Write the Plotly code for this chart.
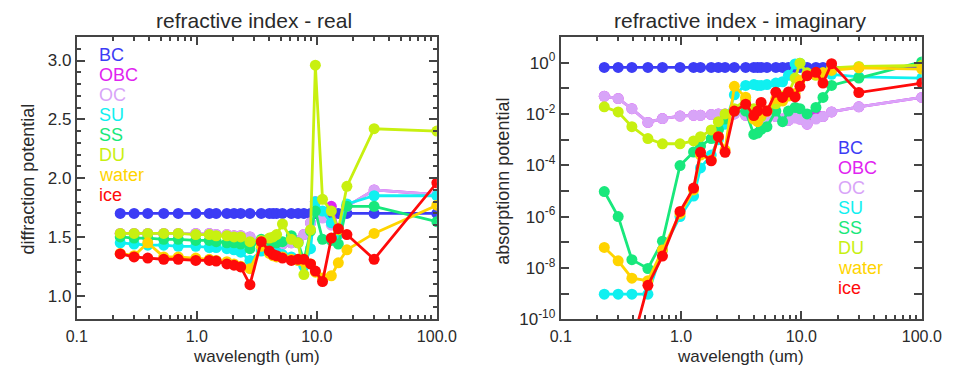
import plotly.graph_objects as go

# wavelength grid (um)
wavelength = [0.23, 0.30, 0.39, 0.53, 0.70, 0.98, 1.27, 1.45, 1.78, 2.04, 2.32, 2.77,
              3.44, 4.02, 4.32, 4.62, 5.17, 6.13, 6.97, 7.80, 8.86, 9.72, 11.15, 13.2,
              15.1, 17.8, 30.0, 100.0]

species = ["BC", "OBC", "OC", "SU", "SS", "DU", "water", "ice"]
colors = ["#3c3cf5", "#e024f0", "#d8a4f8", "#10f0f0", "#18e87c", "#c8f010", "#ffd400", "#ff0a0a"]

# real part (diffraction potential)
re_BC = [1.70] * 28
re_OC = [1.53, 1.53, 1.53, 1.53, 1.53, 1.53, 1.53, 1.52, 1.52, 1.51, 1.51, 1.50,
         1.45, 1.45, 1.44, 1.44, 1.44, 1.45, 1.47, 1.52, 1.62, 1.80, 1.66, 1.60,
         1.56, 1.76, 1.90, 1.86]
re_OBC = [1.53, 1.53, 1.53, 1.53, 1.53, 1.53, 1.53, 1.52, 1.52, 1.51, 1.51, 1.50,
          1.45, 1.45, 1.44, 1.44, 1.44, 1.45, 1.47, 1.52, 1.62, 1.80, 1.68, 1.76,
          1.56, 1.76, 1.90, 1.86]
re_SU = [1.45, 1.44, 1.43, 1.43, 1.42, 1.42, 1.41, 1.41, 1.40, 1.39, 1.37, 1.30,
         1.38, 1.39, 1.38, 1.37, 1.35, 1.33, 1.30, 1.25, 1.40, 1.80, 1.72, 1.62,
         1.52, 1.78, 1.85, 1.85]
re_SS = [1.50, 1.49, 1.49, 1.48, 1.48, 1.47, 1.47, 1.46, 1.45, 1.45, 1.44, 1.40,
         1.48, 1.46, 1.46, 1.45, 1.46, 1.51, 1.45, 1.30, 1.55, 1.72, 1.48, 1.47,
         1.44, 1.76, 1.76, 1.63]
re_DU = [1.53, 1.53, 1.53, 1.53, 1.53, 1.52, 1.52, 1.51, 1.51, 1.50, 1.50, 1.46,
         1.47, 1.49, 1.50, 1.52, 1.61, 1.48, 1.45, 1.18, 1.56, 2.96, 1.82, 1.72,
         1.56, 1.93, 2.42, 2.40]
re_water = [1.36, 1.34, 1.45, 1.33, 1.33, 1.32, 1.31, 1.30, 1.29, 1.27, 1.25, 1.23,
            1.42, 1.36, 1.34, 1.33, 1.33, 1.31, 1.30, 1.29, 1.27, 1.20, 1.15, 1.17,
            1.28, 1.39, 1.53, 1.77]
re_ice = [1.355, 1.33, 1.32, 1.31, 1.31, 1.30, 1.30, 1.295, 1.27, 1.26, 1.245, 1.094,
          1.46, 1.38, 1.35, 1.34, 1.32, 1.30, 1.31, 1.31, 1.27, 1.21, 1.12, 1.49,
          1.57, 1.52, 1.31, 1.96]

# imaginary part (absorption potential)
im_BC = [0.65] * 28
im_OC = [4.9e-2, 4.0e-2, 1.6e-2, 4.7e-3, 6.6e-3, 8.3e-3, 8.9e-3, 8.9e-3, 9.5e-3, 1.0e-2,
         1.0e-2, 1.0e-2, 8.9e-3, 7.9e-3, 7.1e-3, 6.3e-3, 6.3e-3, 7.9e-3, 6.3e-3, 5.6e-3,
         7.1e-3, 6.3e-3, 4.0e-3, 6.3e-3, 7.9e-3, 1.2e-2, 1.9e-2, 4.4e-2]
im_OBC = [4.9e-2, 4.0e-2, 1.6e-2, 4.7e-3, 6.6e-3, 8.3e-3, 8.9e-3, 8.9e-3, 9.5e-3, 1.0e-2,
          1.0e-2, 1.0e-2, 8.9e-3, 7.9e-3, 7.1e-3, 6.3e-3, 6.3e-3, 7.9e-3, 6.3e-3, 5.6e-3,
          7.1e-3, 6.3e-3, 4.0e-3, 1.0e-2, 7.9e-3, 1.2e-2, 1.9e-2, 4.4e-2]
im_SU = [9.5e-10, 9.5e-10, 9.5e-10, 9.5e-10, 5.0e-8, 1.0e-6, 6.3e-6, 7.9e-5, 2.5e-4, 1.0e-3,
         4.0e-3, 5.6e-2, 1.3e-1, 1.4e-1, 1.3e-1, 1.3e-1, 1.4e-1, 1.6e-1, 1.8e-1, 3.2e-1,
         8.9e-1, 9.5e-1, 3.5e-1, 3.5e-1, 3.8e-1, 3.5e-1, 2.8e-1, 2.5e-1]
im_SS = [9.5e-6, 1.0e-6, 2.1e-8, 9.5e-9, 1.1e-7, 9.8e-5, 3.3e-4, 5.6e-4, 1.1e-3, 2.5e-3,
         6.3e-3, 1.3e-2, 1.3e-2, 1.6e-3, 1.8e-3, 2.5e-3, 3.2e-3, 1.3e-2, 5.0e-3, 1.3e-2,
         1.8e-2, 1.6e-2, 1.0e-2, 1.8e-2, 4.4e-2, 1.3e-1, 2.5e-1, 1.07]
im_DU = [1.9e-2, 1.2e-2, 3.2e-3, 1.1e-3, 6.9e-4, 6.9e-4, 8.9e-4, 1.3e-3, 2.4e-3, 5.0e-3,
         1.0e-2, 1.6e-2, 3.5e-2, 1.6e-2, 1.0e-2, 7.9e-3, 1.3e-2, 2.5e-2, 5.0e-2, 6.3e-2,
         2.5e-1, 9.5e-1, 4.0e-1, 3.2e-1, 4.0e-1, 6.3e-1, 7.1e-1, 7.9e-1]
im_water = [6.3e-8, 1.9e-8, 4.0e-9, 3.2e-9, 5.0e-8, 1.3e-6, 1.1e-5, 2.5e-4, 1.6e-4, 1.3e-3,
            4.0e-4, 1.2e-1, 4.5e-2, 6.3e-3, 5.0e-3, 1.0e-2, 1.3e-2, 4.0e-2, 3.2e-2, 5.0e-2,
            6.3e-2, 2.0e-1, 3.2e-1, 3.5e-1, 4.0e-1, 5.0e-1, 6.3e-1, 5.6e-1]
im_ice = [7.9e-16, 1.0e-13, 1.0e-11, 2.1e-9, 2.9e-8, 1.6e-6, 1.3e-5, 3.2e-4, 1.5e-4, 1.3e-3,
          3.2e-4, 1.3e-2, 2.4e-2, 8.7e-3, 1.3e-2, 2.8e-2, 1.3e-2, 7.1e-2, 4.4e-2, 7.2e-2,
          4.6e-2, 1.2e-1, 3.1e-1, 4.2e-1, 1.6e-1, 9.1e-1, 6.8e-2, 1.6e-1]

real_vals = [re_BC, re_OBC, re_OC, re_SU, re_SS, re_DU, re_water, re_ice]
imag_vals = [im_BC, im_OBC, im_OC, im_SU, im_SS, im_DU, im_water, im_ice]

FONT = "Liberation Sans, Arial, Helvetica, sans-serif"
AXC = "#444444"
TXT = "#2a2a2a"

fig = go.Figure()
for name, col, rv, iv in zip(species, colors, real_vals, imag_vals):
    fig.add_trace(go.Scatter(x=wavelength, y=rv, mode="lines+markers", name=name,
                             line=dict(color=col, width=2.8), marker=dict(color=col, size=11),
                             xaxis="x", yaxis="y", showlegend=False))
    fig.add_trace(go.Scatter(x=wavelength, y=iv, mode="lines+markers", name=name,
                             line=dict(color=col, width=2.8), marker=dict(color=col, size=11),
                             xaxis="x2", yaxis="y2", showlegend=False))

xmajor = [0.1, 1, 10, 100]
xmajor_text = ["0.1", "1.0", "10.0", "100.0"]
xminor = [m * d for d in (0.1, 1, 10) for m in range(2, 10)]

common_x = dict(type="log", range=[-1, 2], tickmode="array", tickvals=xmajor, ticktext=xmajor_text,
                ticks="inside", ticklen=8, tickwidth=1.5, tickcolor=AXC, showline=True,
                linecolor=AXC, linewidth=2, mirror="allticks", showgrid=False, zeroline=False,
                ticklabelstandoff=2,
                tickfont=dict(family=FONT, size=16, color=TXT),
                minor=dict(tickmode="array", tickvals=xminor, ticks="inside", ticklen=4,
                           tickcolor=AXC, showgrid=False))

ymaj = [1.0, 1.5, 2.0, 2.5, 3.0]
ymin = [round(0.8 + 0.1 * i, 1) for i in range(25)]
yexp_major = [0, -2, -4, -6, -8, -10]
ymaj2 = [10.0 ** e for e in yexp_major]
ytext2 = ["10<sup>%d</sup>" % e for e in yexp_major]
ymin2 = [10.0 ** e for e in (1, -1, -3, -5, -7, -9)]

fig.update_layout(
    width=965, height=375, margin=dict(l=0, r=0, t=0, b=0),
    paper_bgcolor="white", plot_bgcolor="white",
    font=dict(family=FONT, color=TXT),
    xaxis=dict(domain=[68 / 965, 440 / 965], anchor="y", **common_x),
    xaxis2=dict(domain=[568 / 965, 941 / 965], anchor="y2", **common_x),
    yaxis=dict(domain=[47 / 375, 337 / 375], anchor="x", range=[0.8, 3.2], tickmode="array",
               tickvals=ymaj, ticktext=["%.1f" % v for v in ymaj], ticks="inside", ticklen=8,
               tickwidth=1.5, tickcolor=AXC, showline=True, linecolor=AXC, linewidth=2,
               mirror="allticks", showgrid=False, zeroline=False,
               tickfont=dict(family=FONT, size=17, color=TXT),
               minor=dict(tickmode="array", tickvals=ymin, ticks="inside", ticklen=4,
                          tickcolor=AXC, showgrid=False)),
    yaxis2=dict(domain=[47 / 375, 337 / 375], anchor="x2", type="log", range=[-10, 1],
                tickmode="array", tickvals=ymaj2, ticktext=ytext2, ticks="inside", ticklen=8,
                tickwidth=1.5, tickcolor=AXC, showline=True, linecolor=AXC, linewidth=2,
                mirror="allticks", showgrid=False, zeroline=False,
                tickfont=dict(family=FONT, size=17, color=TXT),
                minor=dict(tickmode="array", tickvals=ymin2, ticks="inside", ticklen=8,
                           tickcolor=AXC, showgrid=False)),
)

ann = []
# titles
ann.append(dict(text="refractive index - real", x=251 / 965, y=1 - 21 / 375, xref="paper", yref="paper",
                showarrow=False, font=dict(family=FONT, size=21, color=TXT), xanchor="center", yanchor="middle"))
ann.append(dict(text="refractive index - imaginary", x=754 / 965, y=1 - 21 / 375, xref="paper", yref="paper",
                showarrow=False, font=dict(family=FONT, size=21, color=TXT), xanchor="center", yanchor="middle"))
# axis titles
for xc in (254, 754):
    ann.append(dict(text="wavelength (um)", x=xc / 965, y=1 - 366 / 375, xref="paper", yref="paper",
                    showarrow=False, font=dict(family=FONT, size=17, color=TXT), xanchor="center", yanchor="middle"))
ann.append(dict(text="diffraction potential", x=18 / 965, y=1 - 184 / 375, xref="paper", yref="paper",
                showarrow=False, textangle=-90, font=dict(family=FONT, size=18, color=TXT),
                xanchor="center", yanchor="middle"))
ann.append(dict(text="absorptionn potential", x=508 / 965, y=1 - 186 / 375, xref="paper", yref="paper",
                showarrow=False, textangle=-90, font=dict(family=FONT, size=18, color=TXT),
                xanchor="center", yanchor="middle"))
# in-plot legends
for i, (name, col) in enumerate(zip(species, colors)):
    ann.append(dict(text=name, x=89 / 965, y=1 - (56.5 + 20.6 * i) / 375, xref="paper", yref="paper",
                    showarrow=False, font=dict(family=FONT, size=18, color=col), xanchor="left", yanchor="middle"))
    ann.append(dict(text=name, x=852 / 965, y=1 - (152.5 + 20.5 * i) / 375, xref="paper", yref="paper",
                    showarrow=False, font=dict(family=FONT, size=18, color=col), xanchor="left", yanchor="middle"))
fig.update_layout(annotations=ann)

fig.write_html("out.html")
